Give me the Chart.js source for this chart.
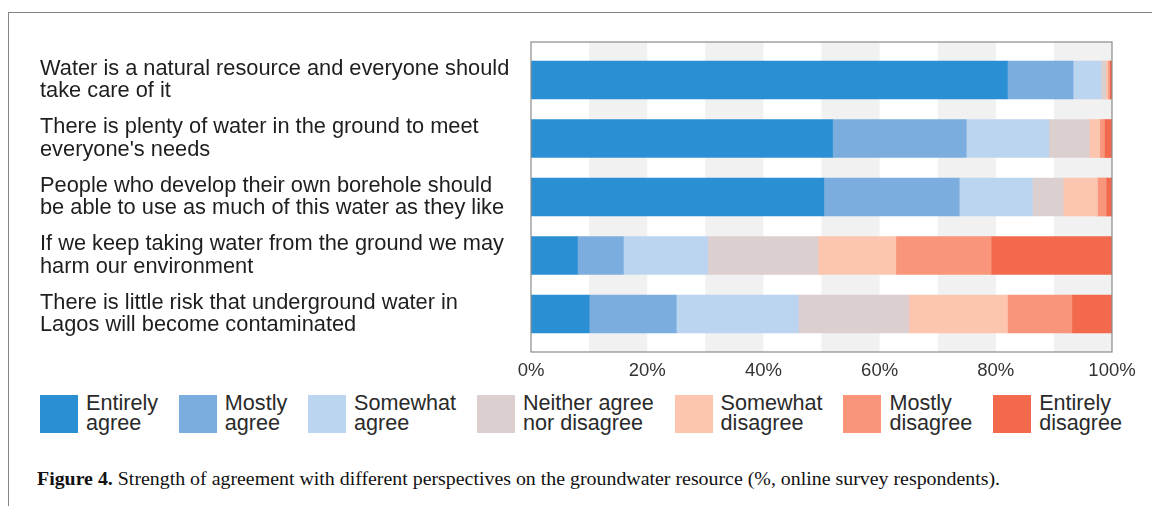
<!DOCTYPE html>
<html>
<head>
<meta charset="utf-8">
<script src="https://cdn.jsdelivr.net/npm/chart.js@4/dist/chart.umd.min.js"></script>
<style>
  html, body { margin: 0; padding: 0; background: #fff; }
  body { width: 1152px; height: 506px; position: relative; overflow: hidden; font-family: "Liberation Sans", Arial, sans-serif; }
  #frame { position: absolute; left: 8px; top: 12px; width: 1200px; height: 600px; border-top: 1.5px solid #858585; border-left: 1.5px solid #858585; }
  #wrap { position: absolute; left: 0; top: 0; width: 1152px; height: 390px; }
  #legend { position: absolute; left: 40px; top: 393px; width: 1082px; display: flex; justify-content: space-between; align-items: flex-start; }
  .item { display: flex; align-items: flex-start; }
  .sw { width: 38px; height: 38px; margin-top: 2px; margin-right: 8px; }
  .lt { font-size: 21.6px; line-height: 20px; color: #2a2a2a; white-space: pre-line; }
  #caption { position: absolute; left: 37px; top: 469px; font-family: "Liberation Serif", "Times New Roman", serif; font-size: 18px; color: #111; white-space: nowrap; transform-origin: 0 0; }
</style>
</head>
<body>
<div id="frame"></div>
<div id="wrap"><canvas id="c"></canvas></div>
<div id="legend"></div>
<div id="caption"><b>Figure 4.</b> Strength of agreement with different perspectives on the groundwater resource (%, online survey respondents).</div>
<script>
// ---- data ----
const categories = [
  ["Water is a natural resource and everyone should", "take care of it"],
  ["There is plenty of water in the ground to meet", "everyone's needs"],
  ["People who develop their own borehole should", "be able to use as much of this water as they like"],
  ["If we keep taking water from the ground we may", "harm our environment"],
  ["There is little risk that underground water in", "Lagos will become contaminated"]
];
const seriesNames = ["Entirely\nagree", "Mostly\nagree", "Somewhat\nagree", "Neither agree\nnor disagree", "Somewhat\ndisagree", "Mostly\ndisagree", "Entirely\ndisagree"];
const entirelyAgree    = [82.0, 51.9, 50.4,  8.0, 10.0];
const mostlyAgree      = [11.3, 23.0, 23.3,  7.9, 15.0];
const somewhatAgree    = [ 4.8, 14.2, 12.6, 14.5, 21.0];
const neither          = [ 0.8,  7.0,  5.3, 19.0, 19.0];
const somewhatDisagree = [ 0.4,  1.8,  5.9, 13.4, 17.0];
const mostlyDisagree   = [ 0.3,  0.8,  1.5, 16.4, 11.1];
const entirelyDisagree = [ 0.4,  1.3,  1.0, 20.8,  6.9];
const xTicks = [0, 20, 40, 60, 80, 100];

const seriesValues = [entirelyAgree, mostlyAgree, somewhatAgree, neither, somewhatDisagree, mostlyDisagree, entirelyDisagree];
const colors = ["#2b90d3", "#7badde", "#bbd4ef", "#dccfd0", "#fcc5b0", "#f8957a", "#f2694e"];

const datasets = seriesValues.map((vals, s) => ({
  label: seriesNames[s],
  data: vals.map((v, i) => ({ x: v, y: i })),
  backgroundColor: colors[s],
  borderWidth: 0,
  barThickness: 38
}));

const bandsPlugin = {
  id: 'bands',
  beforeDatasetsDraw(chart) {
    const { ctx, chartArea: a, scales: { x } } = chart;
    ctx.save();
    ctx.fillStyle = '#f1f1f1';
    for (let v = 10; v < 100; v += 20) {
      const x0 = x.getPixelForValue(v), x1 = x.getPixelForValue(v + 10);
      ctx.fillRect(x0, a.top, x1 - x0, a.bottom - a.top);
    }
    ctx.restore();
  },
  afterDatasetsDraw(chart) {
    const { ctx, chartArea: a } = chart;
    ctx.save();
    ctx.strokeStyle = '#8a8a8a';
    ctx.lineWidth = 1.2;
    ctx.strokeRect(a.left, a.top, a.right - a.left, a.bottom - a.top);
    ctx.restore();
  }
};

new Chart(document.getElementById('c'), {
  type: 'bar',
  data: { datasets },
  options: {
    indexAxis: 'y',
    responsive: true,
    maintainAspectRatio: false,
    animation: false,
    layout: { padding: { left: 40, right: 40, top: 42, bottom: 0 } },
    plugins: { legend: { display: false }, tooltip: { enabled: false } },
    scales: {
      x: {
        type: 'linear', stacked: true, min: 0, max: 100, offset: false,
        grid: { display: false, drawTicks: false },
        border: { display: false },
        afterBuildTicks: s => { s.ticks = xTicks.map(v => ({ value: v })); },
        afterFit: s => { s.height = 38; },
        ticks: { padding: 8, color: '#333', font: { family: 'Liberation Sans', size: 18.5 }, callback: v => v + '%', maxRotation: 0, autoSkip: false }
      },
      y: {
        type: 'linear', stacked: true, reverse: true, offset: false,
        min: -0.65, max: categories.length - 0.35,
        grid: { display: false, drawTicks: false },
        border: { display: false },
        afterBuildTicks: s => { s.ticks = categories.map((c, i) => ({ value: i })); },
        afterFit: s => { s.width = 491; },
        ticks: { crossAlign: 'far', padding: 0, color: '#1e1e1e', font: { family: 'Liberation Sans', size: 21.8, lineHeight: 1.02 }, callback: v => categories[v], autoSkip: false }
      }
    }
  },
  plugins: [bandsPlugin]
});

// legend
const lg = document.getElementById('legend');
seriesNames.forEach((n, s) => {
  const it = document.createElement('div'); it.className = 'item';
  const sw = document.createElement('div'); sw.className = 'sw'; sw.style.background = colors[s];
  const t = document.createElement('div'); t.className = 'lt'; t.textContent = n;
  it.appendChild(sw); it.appendChild(t); lg.appendChild(it);
});
// caption width
const cap = document.getElementById('caption');
const w = cap.getBoundingClientRect().width;
cap.style.transform = 'scaleX(' + (963 / w) + ')';
</script>
</body>
</html>
